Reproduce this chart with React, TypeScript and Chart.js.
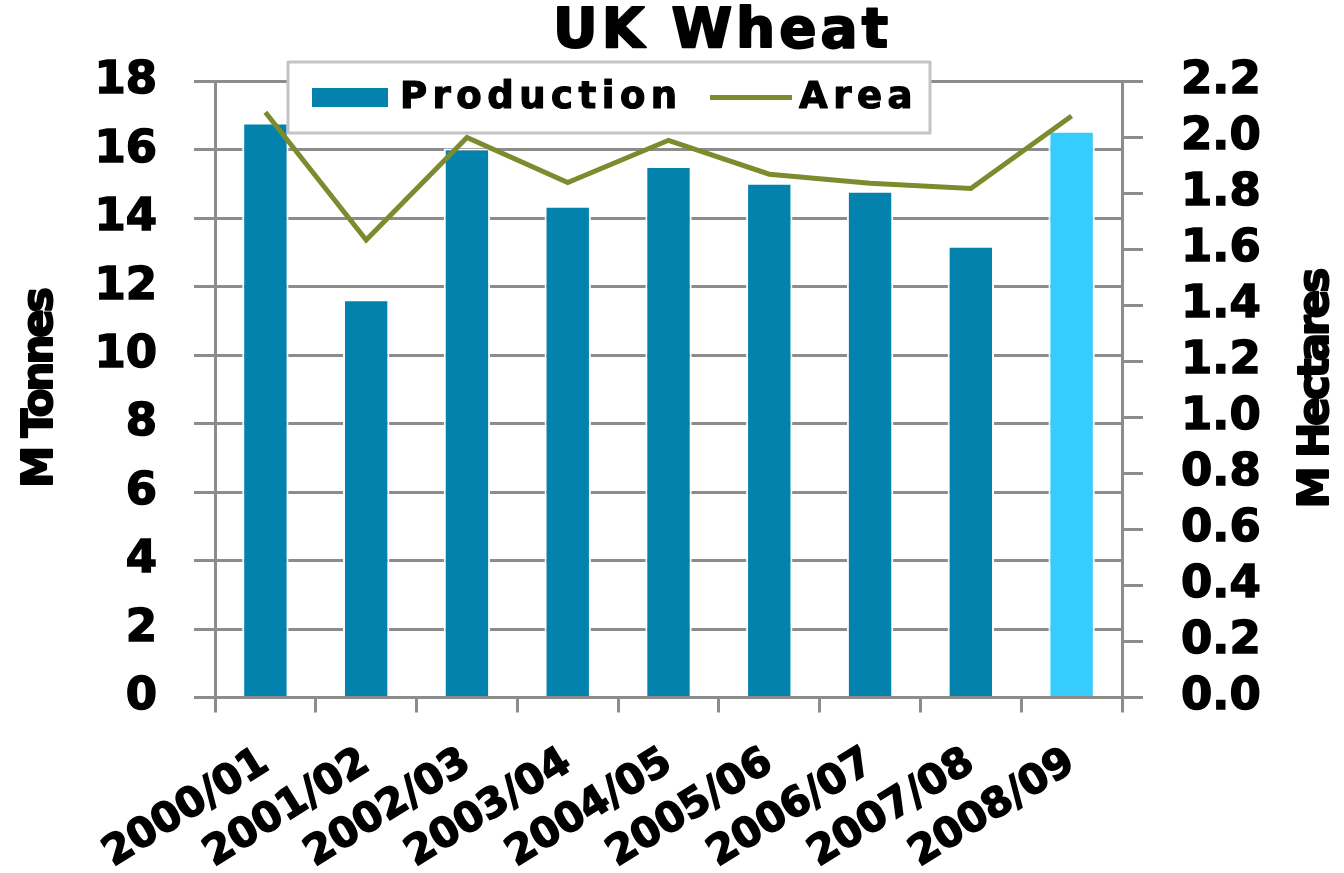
import React, { useEffect, useRef } from "react";
import { Chart, registerables } from "chart.js";

Chart.register(...registerables);

const TITLE = "UK Wheat";
const Y_LEFT_TITLE = "M Tonnes";
const Y_RIGHT_TITLE = "M Hectares";
const categories = ["2000/01", "2001/02", "2002/03", "2003/04", "2004/05", "2005/06", "2006/07", "2007/08", "2008/09"];
const productionLabel = "Production";
const areaLabel = "Area";
const production = [16.8, 11.64, 16.04, 14.37, 15.53, 15.04, 14.81, 13.2, 16.56];
const area = [2.09, 1.634, 2.0, 1.839, 1.99, 1.869, 1.837, 1.818, 2.077];
const barColors = ["#0382AD", "#0382AD", "#0382AD", "#0382AD", "#0382AD", "#0382AD", "#0382AD", "#0382AD", "#36CCFD"];
const BAR_COLOR = "#0382AD";
const LINE_COLOR = "#7D8B2F";
const GRID = "#8C8C8C";
const FONT = '"DejaVu Sans", "Liberation Sans", Arial, sans-serif';

function setLS(ctx: any, v: string) {
  if ("letterSpacing" in ctx) ctx.letterSpacing = v;
}

function heavyText(ctx: any, t: string, x: number, y: number, w: number) {
  ctx.lineJoin = "round";
  ctx.lineWidth = w;
  ctx.strokeStyle = "#000";
  ctx.strokeText(t, x, y);
  ctx.fillText(t, x, y);
}

const overlayPlugin = {
  id: "overlay",
  afterDraw(chart: any) {
    const ctx = chart.ctx;
    ctx.save();
    // Title
    ctx.fillStyle = "#000";
    ctx.textAlign = "left";
    ctx.textBaseline = "alphabetic";
    ctx.font = `bold 55px ${FONT}`;
    setLS(ctx, "4px");
    heavyText(ctx, TITLE, 553, 47, 2);

    // Legend
    setLS(ctx, "0px");
    ctx.fillStyle = "#fff";
    ctx.fillRect(288, 62, 642, 71);
    ctx.strokeStyle = "#C4C4C4";
    ctx.lineWidth = 3;
    ctx.strokeRect(288, 62, 642, 71);
    ctx.fillStyle = BAR_COLOR;
    ctx.fillRect(312, 88, 76, 19);
    ctx.strokeStyle = LINE_COLOR;
    ctx.lineWidth = 5;
    ctx.beginPath();
    ctx.moveTo(710, 97.5);
    ctx.lineTo(792, 97.5);
    ctx.stroke();
    ctx.fillStyle = "#000";
    ctx.font = `bold 37px ${FONT}`;
    setLS(ctx, "5.5px");
    heavyText(ctx, productionLabel, 400, 108, 1.2);
    heavyText(ctx, areaLabel, 799, 108, 1.2);

    // Axis titles
    ctx.font = `bold 42px ${FONT}`;
    setLS(ctx, "-3px");
    ctx.textAlign = "center";
    ctx.textBaseline = "middle";
    ctx.save();
    ctx.translate(41, 389);
    ctx.rotate(-Math.PI / 2);
    heavyText(ctx, Y_LEFT_TITLE, 0, 0, 2);
    ctx.restore();
    ctx.save();
    ctx.translate(1317, 389.5);
    ctx.rotate(-Math.PI / 2);
    heavyText(ctx, Y_RIGHT_TITLE, 0, 0, 2);
    ctx.restore();
    setLS(ctx, "0px");
    ctx.restore();
  },
};

export default function App() {
  const ref = useRef<HTMLCanvasElement | null>(null);
  useEffect(() => {
    if (!ref.current) return;
    const chart = new Chart(ref.current, {
      type: "bar",
      data: {
        labels: categories,
        datasets: [
          {
            type: "bar",
            label: productionLabel,
            data: production,
            backgroundColor: barColors,
            borderColor: "#ffffff",
            borderWidth: 2,
            barPercentage: 0.46,
            categoryPercentage: 1,
            yAxisID: "y",
            order: 1,
          },
          {
            type: "line",
            label: areaLabel,
            data: area,
            borderColor: LINE_COLOR,
            borderWidth: 5,
            pointRadius: 0,
            tension: 0,
            yAxisID: "y1",
            order: 0,
          } as any,
        ],
      },
      options: {
        responsive: false,
        animation: false,
        layout: { padding: { top: 81.5, left: 0, right: 0, bottom: 0 } },
        plugins: {
          legend: { display: false },
          title: { display: false },
          tooltip: { enabled: false },
        },
        scales: {
          x: {
            offset: true,
            grid: {
              offset: true,
              drawOnChartArea: false,
              drawTicks: true,
              tickLength: 15,
              color: GRID,
              lineWidth: 3,
            },
            border: { display: true, color: GRID, width: 3 },
            ticks: {
              color: "#000",
              textStrokeColor: "#000",
              textStrokeWidth: 1.5,
              font: { family: FONT, size: 41, weight: "bold" },
              minRotation: 32,
              maxRotation: 32,
              autoSkip: false,
              padding: 26,
            },
            afterFit: (s: any) => {
              s.height = 175.5;
            },
          },
          y: {
            position: "left",
            min: 0,
            max: 18,
            grid: { color: GRID, lineWidth: 3, tickLength: 21, drawTicks: true },
            border: { display: true, color: GRID, width: 3 },
            ticks: {
              stepSize: 2,
              autoSkip: false,
              color: "#000",
              textStrokeColor: "#000",
              textStrokeWidth: 1.5,
              padding: 37,
              font: { family: FONT, size: 45, weight: "bold" },
            },
            afterFit: (s: any) => {
              s.width = 215;
            },
          },
          y1: {
            position: "right",
            min: 0,
            max: 2.2,
            grid: { drawOnChartArea: false, color: GRID, lineWidth: 3, tickLength: 21, drawTicks: true },
            border: { display: true, color: GRID, width: 3 },
            ticks: {
              stepSize: 0.2,
              autoSkip: false,
              color: "#000",
              textStrokeColor: "#000",
              textStrokeWidth: 1.5,
              padding: 38,
              font: { family: FONT, size: 45, weight: "bold" },
              callback: (v: any) => Number(v).toFixed(1),
            },
            afterFit: (s: any) => {
              s.width = 222;
            },
          },
        },
      },
      plugins: [overlayPlugin],
    });
    return () => chart.destroy();
  }, []);
  return (
    <div style={{ position: "fixed", left: 0, top: 0, width: 1344, height: 873, background: "#fff" }}>
      <canvas ref={ref} width={1344} height={873} style={{ display: "block" }} />
    </div>
  );
}
